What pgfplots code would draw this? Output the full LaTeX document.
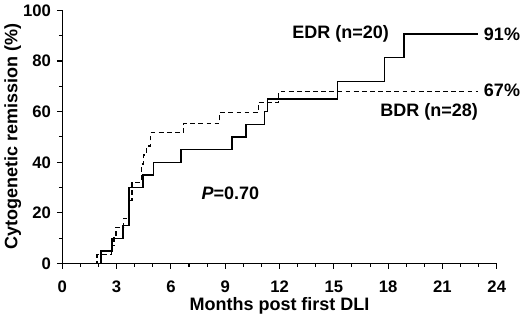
\documentclass[border=0pt]{standalone}
\usepackage{pgfplots}
\pgfplotsset{compat=1.18}
\usepackage{fontspec}
\setmainfont{Liberation Sans}
\begin{document}
\begin{tikzpicture}
\begin{axis}[
  scale only axis, width=326pt, height=190pt,
  xmin=0, xmax=24, ymin=0, ymax=100,
  axis lines=left, axis line style={-, line width=0.8pt},
  xtick={0,3,...,24}, ytick={0,20,...,100},
  minor xtick={0,1,...,24}, minor ytick={10,30,50,70,90},
  tick align=outside, major tick length=4pt, minor tick length=2.5pt,
  tick style={black, line width=0.8pt},
  ticklabel style={font=\bfseries\fontsize{12.5}{14}\selectfont},
  yticklabel style={xshift=-1pt},
  xticklabel style={yshift=-5.5pt},
  /pgf/number format/assume math mode=true,
  xlabel={Months post first DLI}, ylabel={Cytogenetic remission (\%)},
  label style={font=\bfseries\fontsize{13.5}{15}\selectfont},
  xlabel style={yshift=3pt},
  ylabel style={yshift=-5.5pt},
  clip=false,
]
\addplot[const plot, black, line width=1pt] coordinates {
(0,0) (2.14,0) (2.14,5) (2.75,10) (3.35,15) (3.69,30) (4.46,35) (5.05,40) (6.55,45)
(9.38,50) (10.15,55) (11.18,60) (11.34,65) (15.19,72) (17.79,81.3) (18.88,90.6) (22.94,90.6)
};
\addplot[const plot, black, line width=1pt, dash pattern=on 3.6pt off 2.5pt] coordinates {
(0,0) (1.92,0) (1.92,3.6) (2.72,7.1) (2.85,10.7) (2.97,14.3) (3.39,17.9) (3.67,25) (3.85,32.1)
(4.37,39.3) (4.5,42.9) (4.65,46.4) (4.87,51.8) (6.71,55.4) (8.70,59.6) (10.83,63.6) (11.96,67.9) (22.94,67.9)
};
\node[font=\bfseries\fontsize{13.5}{15}\selectfont] at (axis cs:15.38,90.6) {EDR (n=20)};
\node[font=\bfseries\fontsize{13.5}{15}\selectfont, anchor=west, inner sep=0pt] at (axis cs:23.28,90.6) {91\%};
\node[font=\bfseries\fontsize{13.5}{15}\selectfont, anchor=west, inner sep=0pt] at (axis cs:23.28,68.4) {67\%};
\node[font=\bfseries\fontsize{13.5}{15}\selectfont] at (axis cs:20.26,60) {BDR (n=28)};
\node[font=\bfseries\fontsize{13.5}{15}\selectfont] at (axis cs:9.29,27.8) {\textit{P}=0.70};
\end{axis}
\end{tikzpicture}
\end{document}
